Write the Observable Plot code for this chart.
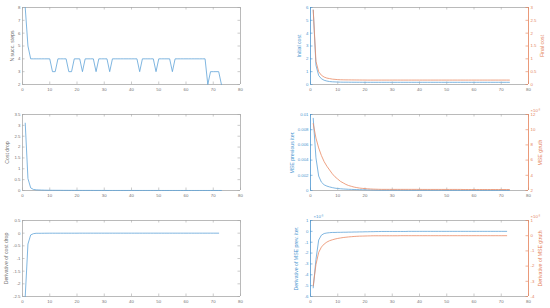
<!DOCTYPE html>
<html><head><meta charset="utf-8">
<script src="https://cdn.jsdelivr.net/npm/d3@7"></script>
<script src="https://cdn.jsdelivr.net/npm/@observablehq/plot@0.6"></script>
<style>
body{margin:0;background:#fff}
#chart{position:relative;width:550px;height:308px;overflow:hidden;background:#fff}
#chart svg{position:absolute;left:0;top:0;background:transparent}
</style></head><body><div id="chart"></div>
<script>
const xTicks=[0,10,20,30,40,50,60,70,80];

const nSuccSteps=[8,5,4,4,4,4,4,4,4,4, 3,3,4,4,4,4,3,3,4,4, 4,3,4,4,4,4,3,4,4,4,
 4,3,4,4,4,4,4,4,4,4, 4,4,3,4,4,4,4,4,3,4, 4,4,4,4,3,4,4,4,4,4, 4,4,4,4,4,4,4,2,3,3, 3,3,2];
const nSuccTicks=[2,3,4,5,6,7,8];

const costDrop=[3.1,0.55,0.12,0.05,0.03,0.025,0.02,0.016,0.013,0.011,
 0.01,0.009,0.008,0.008,0.007,0.007,0.006,0.006,0.005,0.005,
 0.005,0.004,0.004,0.004,0.004,0.003,0.003,0.003,0.003,0.003,
 0.002,0.002,0.002,0.002,0.002,0.002,0.002,0.002,0.002,0.002,
 0.002,0.002,0.002,0.002,0.002,0.002,0.002,0.002,0.002,0.002,
 0.001,0.001,0.001,0.001,0.001,0.001,0.001,0.001,0.001,0.001,
 0.001,0.001,0.001,0.001,0.001,0.001,0.001,0.001,0.001,0.001,
 0.001,0.001,0.001];
const costDropTicks=[0,0.5,1,1.5,2,2.5,3,3.5];

const costDropDeriv=[-2.5,-0.43,-0.07,-0.02,-0.005,-0.005,-0.004,-0.003,-0.002,-0.001,
 -0.001,-0.001,-0.001,-0.001,-0.001,-0.001,-0.001,-0.001,-0.001,-0.001,
 0,0,0,0,0,0,0,0,0,0, 0,0,0,0,0,0,0,0,0,0, 0,0,0,0,0,0,0,0,0,0,
 0,0,0,0,0,0,0,0,0,0, 0,0,0,0,0,0,0,0,0,0, 0,0];
const costDropDerivTicks=[-2.5,-2,-1.5,-1,-0.5,0,0.5];

const initialCost=[5.8,1.5,0.7,0.45,0.33,0.27,0.23,0.21,0.2,0.19,
 0.185,0.18,0.18,0.178,0.176,0.175,0.174,0.173,0.172,0.171,
 0.17,0.17,0.17,0.17,0.17,0.17,0.17,0.17,0.17,0.17,
 0.17,0.17,0.17,0.17,0.17,0.17,0.17,0.17,0.17,0.17,
 0.17,0.17,0.17,0.17,0.17,0.17,0.17,0.17,0.17,0.17,
 0.17,0.17,0.17,0.17,0.17,0.17,0.17,0.17,0.17,0.17,
 0.17,0.17,0.17,0.17,0.17,0.17,0.17,0.17,0.17,0.17,
 0.17,0.17,0.17];
const initialCostTicks=[0,1,2,3,4,5,6];
const finalCost=[2.9,0.9,0.5,0.36,0.29,0.25,0.23,0.21,0.2,0.19,
 0.185,0.182,0.18,0.179,0.178,0.177,0.176,0.175,0.174,0.173,
 0.172,0.172,0.172,0.172,0.172,0.172,0.172,0.172,0.172,0.172,
 0.172,0.172,0.172,0.172,0.172,0.172,0.172,0.172,0.172,0.172,
 0.172,0.172,0.172,0.172,0.172,0.172,0.172,0.172,0.172,0.172,
 0.172,0.172,0.172,0.172,0.172,0.172,0.172,0.172,0.172,0.172,
 0.172,0.172,0.172,0.172,0.172,0.172,0.172,0.172,0.172,0.172,
 0.172,0.172,0.172];
const finalCostTicks=[0,0.5,1,1.5,2,2.5,3];

const msePrev=[0.0095,0.0043,0.0019,0.0011,0.00075,0.00058,0.00047,0.00038,0.00031,0.00026,
 0.00023,0.0002,0.00018,0.00016,0.00015,0.00013,0.00012,0.00011,0.0001,0.00009,
 0.00008,0.00007,0.00006,0.00005,
 0.00004,0.00004,0.00004,0.00004,0.00004,0.00004,0.00004,0.00004,0.00004,0.00004,
 0.00003,0.00003,0.00003,0.00003,0.00003,0.00003,0.00003,0.00003,0.00003,0.00003,
 0.00003,0.00003,0.00003,0.00003,0.00003,
 0.00002,0.00002,0.00002,0.00002,0.00002,0.00002,0.00002,0.00002,0.00002,0.00002,
 0.00002,0.00002,0.00002,0.00002,0.00002,0.00002,0.00002,0.00002,0.00002,0.00002,
 0.00002,0.00002,0.00002,0.00002];
const msePrevTicks=[0,0.002,0.004,0.006,0.008,0.01];
const mseGtruth=[0.0108,0.0089,0.0076,0.0066,0.0058,0.0052,0.0047,0.0042,0.0038,0.0035,
 0.0032,0.003,0.0028,0.00265,0.00255,0.00245,0.00238,0.00232,0.00228,0.00225,
 0.00222,0.0022,0.00218,0.00217,0.00216,
 0.00215,0.00215,0.00215,0.00215,0.00215,0.00215,0.00215,0.00215,0.00215,0.00215,
 0.00215,0.00215,0.00215,0.00215,0.00215,
 0.00214,0.00214,0.00214,0.00214,0.00214,0.00214,0.00214,0.00214,0.00214,0.00214,
 0.00214,0.00214,0.00214,0.00214,0.00214,
 0.00213,0.00213,0.00213,0.00213,0.00213,0.00213,0.00213,0.00213,0.00213,0.00213,
 0.00213,0.00213,0.00213,0.00213,0.00213,0.00213,0.00213,0.00213];
const mseGtruthTicks=[0.002,0.004,0.006,0.008,0.01,0.012];

const msePrevDeriv=[-0.0052,-0.0026,-0.0008,-0.00035,-0.0002,-0.00015,-0.00012,-0.0001,-0.0001,-0.00009,
 -0.00009,-0.00008,-0.00008,-0.00007,-0.00007,-0.00006,-0.00006,-0.00005,-0.00005,-0.00004,
 -0.00004,-0.00003,-0.00003,-0.00002,-0.00002,
 -0.00001,-0.00001,-0.00001,-0.00001,-0.00001,-0.00001,-0.00001,-0.00001,-0.00001,-0.00001,
 0,0,0,0,0,0,0,0,0,0, 0,0,0,0,0,0,0,0,0,0, 0,0,0,0,0,0,0,0,0,0, 0,0,0,0,0,0,0];
const msePrevDerivTicks=[-0.006,-0.005,-0.004,-0.003,-0.002,-0.001,0,0.001];
const mseGtruthDeriv=[-0.0033,-0.0019,-0.0011,-0.00075,-0.00055,-0.00042,-0.00033,-0.00027,-0.00022,-0.00018,
 -0.00015,-0.00012,-0.0001,-0.00008,-0.000065,-0.00005,-0.00004,-0.00003,-0.000025,-0.00002,
 -0.000015,-0.00001,
 -0.000005,-0.000005,-0.000005,-0.000005,-0.000005,-0.000005,-0.000005,-0.000005,-0.000005,-0.000005,
 0,0,0,0,0,0,0,0,0,0, 0,0,0,0,0,0,0,0,0,0, 0,0,0,0,0,0,0,0,0,0, 0,0,0,0,0,0,0,0,0,0];
const mseGtruthDerivTicks=[-0.004,-0.003,-0.002,-0.001,0,0.001];

const BLUE="#5fa3d8", ORANGE="#ea8a64", GRAY="#a8a8a8", TXT="#707070";
const BLUE_T="#4b96d0", ORANGE_T="#e48058";
const FS=4.3, LFS=5.2, TL=2.5;
const cols=[{ml:22,mr:310},{ml:310,mr:22}];
const rows=[{mt:7,mb:224},{mt:114,mb:118},{mt:220,mb:12}];
const plain=d=>String(+d.toFixed(4));
const milli=d=>String(Math.round(d*1000));

function layer(o){
  const c=cols[o.col], r=rows[o.row];
  const fw=550-c.ml-c.mr, fh=308-r.mt-r.mb;
  const marks=[];
  if(o.drawX){
    marks.push(Plot.ruleY([o.domain[0]],{stroke:GRAY,strokeWidth:0.8}));
    marks.push(Plot.ruleY([o.domain[1]],{stroke:GRAY,strokeWidth:0.8}));
    marks.push(Plot.tickX(xTicks,{x:d=>d,stroke:GRAY,strokeWidth:0.6,insetTop:fh-TL}));
    marks.push(Plot.tickX(xTicks,{x:d=>d,stroke:GRAY,strokeWidth:0.6,insetBottom:fh-TL}));
    marks.push(Plot.axisX({ticks:xTicks,tickSize:0,tickPadding:3,fontSize:FS,fill:TXT,label:null,tickFormat:plain}));
  }
  const sides=o.both?["left","right"]:[o.side];
  for(const s of sides){
    marks.push(Plot.ruleX([s==="left"?0:80],{stroke:o.spine,strokeWidth:0.8}));
    marks.push(Plot.tickY(o.ticks,{y:d=>d,stroke:o.spine,strokeWidth:0.6,
      insetRight:s==="left"?fw-TL:0, insetLeft:s==="left"?0:fw-TL}));
  }
  marks.push(Plot.axisY({anchor:o.side,ticks:o.ticks,tickSize:0,tickPadding:2,fontSize:FS,fill:o.tcolor,label:null,tickFormat:o.fmt}));
  for(const s of o.series){
    marks.push(Plot.line(s,{x:(d,i)=>i+1,y:d=>d,stroke:o.color,strokeWidth:0.8}));
  }
  marks.push(Plot.text([o.label],{frameAnchor:o.side,textAnchor:"middle",lineAnchor:"middle",rotate:-90,dx:o.ldx,fill:o.tcolor,fontSize:LFS}));
  if(o.exp){
    marks.push(Plot.text(["\u00d710\u207b\u00b3"],{frameAnchor:o.side==="left"?"top-left":"top-right",textAnchor:"start",lineAnchor:"bottom",dx:o.side==="left"?3:2,dy:-2.5,fill:o.tcolor,fontSize:FS}));
  }
  return Plot.plot({
    width:550,height:308,
    marginLeft:c.ml,marginRight:c.mr,marginTop:r.mt,marginBottom:r.mb,
    x:{domain:[0,80],axis:null},
    y:{domain:o.domain,axis:null},
    style:{background:"transparent",fontFamily:"Liberation Sans, Arial, sans-serif",overflow:"visible"},
    marks
  });
}

const layers=[
  {col:0,row:0,drawX:true,both:true,side:"left",domain:[2,8],ticks:nSuccTicks,fmt:plain,spine:GRAY,tcolor:TXT,color:BLUE,series:[nSuccSteps],label:"N succ. steps",ldx:-10},
  {col:0,row:1,drawX:true,both:true,side:"left",domain:[0,3.5],ticks:costDropTicks,fmt:plain,spine:GRAY,tcolor:TXT,color:BLUE,series:[costDrop],label:"Cost drop",ldx:-15},
  {col:0,row:2,drawX:true,both:true,side:"left",domain:[-2.5,0.5],ticks:costDropDerivTicks,fmt:plain,spine:GRAY,tcolor:TXT,color:BLUE,series:[costDropDeriv],label:"Derivative of cost drop",ldx:-16},
  {col:1,row:0,drawX:true,side:"left",domain:[0,6],ticks:initialCostTicks,fmt:plain,spine:BLUE_T,tcolor:BLUE_T,color:BLUE,series:[initialCost],label:"Initial cost",ldx:-11},
  {col:1,row:0,side:"right",domain:[0,3],ticks:finalCostTicks,fmt:plain,spine:ORANGE_T,tcolor:ORANGE_T,color:ORANGE,series:[finalCost],label:"Final cost",ldx:14},
  {col:1,row:1,drawX:true,side:"left",domain:[0,0.01],ticks:msePrevTicks,fmt:plain,spine:BLUE_T,tcolor:BLUE_T,color:BLUE,series:[msePrev],label:"MSE previous iter.",ldx:-18},
  {col:1,row:1,side:"right",domain:[0.002,0.012],ticks:mseGtruthTicks,fmt:milli,spine:ORANGE_T,tcolor:ORANGE_T,color:ORANGE,series:[mseGtruth],label:"MSE gtruth",ldx:12,exp:true},
  {col:1,row:2,drawX:true,side:"left",domain:[-0.006,0.001],ticks:msePrevDerivTicks,fmt:milli,spine:BLUE_T,tcolor:BLUE_T,color:BLUE,series:[msePrevDeriv],label:"Derivative of MSE prev. iter.",ldx:-14,exp:true},
  {col:1,row:2,side:"right",domain:[-0.004,0.001],ticks:mseGtruthDerivTicks,fmt:milli,spine:ORANGE_T,tcolor:ORANGE_T,color:ORANGE,series:[mseGtruthDeriv],label:"Derivative of MSE gtruth",ldx:12,exp:true}
];
const root=document.getElementById("chart");
for(const o of layers) root.appendChild(layer(o));
</script></body></html>
